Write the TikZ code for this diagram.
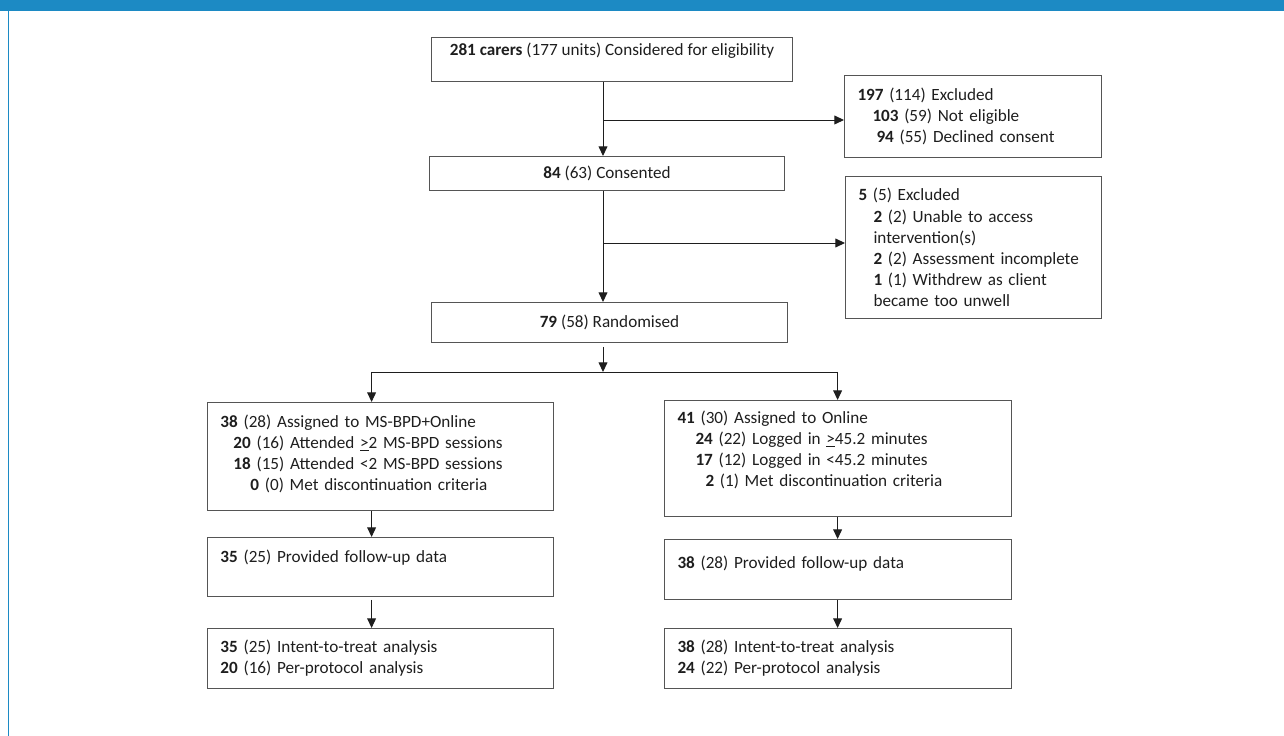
\documentclass[tikz,border=0pt]{standalone}
\usepackage{fontspec}
\setmainfont{Carlito}
\usepackage{xcolor}
\usepackage{tikz}
\usetikzlibrary{arrows.meta}
\usetikzlibrary{calc}
\definecolor{barblue}{RGB}{28,138,196}
\definecolor{framegray}{RGB}{85,85,85}
\definecolor{inkgray}{RGB}{30,30,30}
\newcommand{\padbelow}[1]{\rule[-#1]{0pt}{#1}}

\begin{document}
\begin{tikzpicture}[
    box/.style={draw=framegray,line width=0.7pt,anchor=north west,inner xsep=0.325cm,
      inner ysep=0pt,align=left,text=inkgray,font=\fontsize{12.2}{15}\selectfont},
    arr/.style={-{Triangle[length=2.4mm,width=2.2mm]},draw=inkgray,line width=0.7pt}]
    \useasboundingbox (0,0) rectangle (32.1,-18.4);
    % page frame
    \fill[barblue] (0,0) rectangle (32.1,-0.275);
    \fill[barblue] (0.19,-0.275) rectangle (0.23,-18.4);
    % columns of the flow
    \coordinate (spine) at (15.075,0);
    \coordinate (lcol) at (9.29,0);
    \coordinate (rcol) at (20.94,0);
    % enrolment
    \node[box,align=center,minimum width=9.025cm,minimum height=1.1cm] (screened) at (10.775,-0.925)
      {\textbf{281 carers} (177 units) Considered for eligibility\padbelow{0.5cm}};
    \node[box,align=center,minimum width=8.875cm,minimum height=0.85cm] (consented) at (10.725,-3.9)
      {\textbf{84} (63) Consented};
    \node[box,text width=5.775cm,minimum height=2.05cm] (exclA) at (21.1,-1.875)
      {\textbf{197} (114) Excluded\\
       \hspace*{0.375cm}\textbf{103} (59) Not eligible\\
       \hspace*{0.475cm}\textbf{94} (55) Declined consent};
    \node[box,text width=5.75cm,minimum height=3.55cm] (exclB) at (21.125,-4.4)
      {\textbf{5} (5) Excluded\\
       \hspace*{0.375cm}\textbf{2} (2) Unable to access\\
       \hspace*{0.375cm}intervention(s)\\
       \hspace*{0.375cm}\textbf{2} (2) Assessment incomplete\\
       \hspace*{0.375cm}\textbf{1} (1) Withdrew as client\\
       \hspace*{0.375cm}became too unwell};
    \node[box,align=center,minimum width=8.9cm,minimum height=1.0cm] (randomised) at (10.775,-7.55)
      {\textbf{79} (58) Randomised};
    % MS-BPD arm
    \node[box,text width=8.0cm,minimum height=2.7cm] (msbpd) at (5.175,-10.05)
      {\textbf{38} (28) Assigned to MS-BPD+Online\\
       \hspace*{0.325cm}\textbf{20} (16) Attended \underline{>}2 MS-BPD sessions\\
       \hspace*{0.325cm}\textbf{18} (15) Attended <2 MS-BPD sessions\\
       \hspace*{0.75cm}\textbf{0} (0) Met discontinuation criteria\padbelow{0.175cm}};
    \node[box,text width=8.0cm,minimum height=1.475cm] (msfollow) at (5.175,-13.425)
      {\textbf{35} (25) Provided follow-up data\padbelow{0.525cm}};
    \node[box,text width=8.0cm,minimum height=1.5cm] (msanalysis) at (5.175,-15.7)
      {\textbf{35} (25) Intent-to-treat analysis\\
       \textbf{20} (16) Per-protocol analysis};
    % online arm
    \node[box,text width=8.025cm,minimum height=2.9cm] (online) at (16.6,-10.0)
      {\textbf{41} (30) Assigned to Online\\
       \hspace*{0.45cm}\textbf{24} (22) Logged in \underline{>}45.2 minutes\\
       \hspace*{0.45cm}\textbf{17} (12) Logged in <45.2 minutes\\
       \hspace*{0.7cm}\textbf{2} (1) Met discontinuation criteria\padbelow{0.475cm}};
    \node[box,text width=8.025cm,minimum height=1.5cm] (onfollow) at (16.6,-13.475)
      {\textbf{38} (28) Provided follow-up data\padbelow{0.35cm}};
    \node[box,text width=8.025cm,minimum height=1.5cm] (onanalysis) at (16.6,-15.7)
      {\textbf{38} (28) Intent-to-treat analysis\\
       \textbf{24} (22) Per-protocol analysis};
    % connectors
    \coordinate (fork1) at (15.075,-3.0);
    \coordinate (fork2) at (15.075,-6.075);
    \coordinate (split) at (15.075,-9.3);
    \draw[arr] (screened.south -| spine) -- (consented.north -| spine);
    \draw[arr] (fork1) -- (fork1 -| exclA.west);
    \draw[arr] (consented.south -| spine) -- (randomised.north -| spine);
    \draw[arr] (fork2) -- (fork2 -| exclB.west);
    \draw[arr,shorten <=0.1cm] (randomised.south -| spine) -- (split);
    \draw[draw=inkgray,line width=0.7pt] (split -| lcol) -- (split -| rcol);
    \draw[arr] (split -| lcol) -- (msbpd.north -| lcol);
    \draw[arr] (split -| rcol) -- (online.north -| rcol);
    \draw[arr] (msbpd.south -| lcol) -- (msfollow.north -| lcol);
    \draw[arr,shorten <=0.075cm] (msfollow.south -| lcol) -- (msanalysis.north -| lcol);
    \draw[arr] (online.south -| rcol) -- (onfollow.north -| rcol);
    \draw[arr] (onfollow.south -| rcol) -- (onanalysis.north -| rcol);
  \end{tikzpicture}
\end{document}
